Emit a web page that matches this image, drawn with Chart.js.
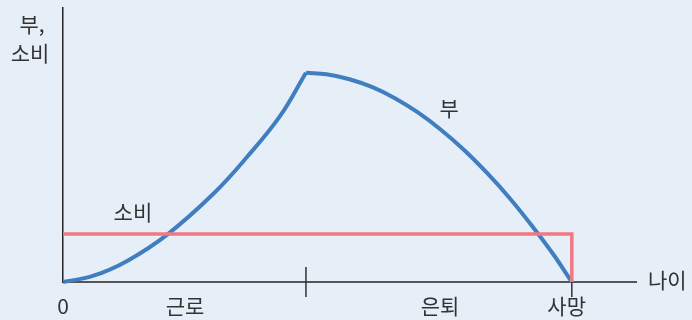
<!DOCTYPE html>
<html>
<head>
<meta charset="utf-8">
<script src="https://cdn.jsdelivr.net/npm/chart.js@4/dist/chart.umd.min.js"></script>
<style>
  html, body { margin: 0; padding: 0; background: #e6eef8; }
  #wrap { width: 692px; height: 320px; }
</style>
</head>
<body>
<div id="wrap"><canvas id="lifeChart"></canvas></div>
<script>
// ===== data (x: age axis 0-100, y: amount 0-100) =====
const workAgeX = [0, 5.2, 11.2, 18.3, 26.2, 32.1, 37.9, 42.4];
const workWealth = [0, 2.2, 7.7, 17.5, 32.1, 45.6, 60.6, 76.4];
const retireAgeX = [42.4, 46.0, 50.0, 54.0, 58.0, 62.0, 66.0, 70.0, 74.0, 78.0, 82.0, 85.5, 88.8];
const retireWealth = [76.4, 75.8, 74.0, 71.1, 67.0, 61.8, 55.5, 48.2, 39.8, 30.5, 20.1, 10.3, 0];
const consumptionX = [0, 88.8, 88.8];
const consumptionY = [17.5, 17.5, 0];

const tickLabels = ["0", "근로", "은퇴", "사망"];
const tickLabelX = [0, 21.3, 65.8, 87.9];
const retireAge = 42.4;
const deathAge = 88.8;

const toPoints = (xs, ys) => xs.map((x, i) => ({ x: x, y: ys[i] }));

const FONT = "'Noto Sans CJK KR', 'Noto Sans', sans-serif";

// ===== labels & tick marks =====
const labelPlugin = {
    id: "labelPlugin",
    afterDraw(chart) {
        const ctx = chart.ctx;
        const xs = chart.scales.x;
        const ys = chart.scales.y;
        const base = ys.getPixelForValue(0);

        ctx.save();
        // tick marks
        ctx.strokeStyle = "#333";
        ctx.lineWidth = 1.5;
        ctx.beginPath();
        const rx = xs.getPixelForValue(retireAge);
        ctx.moveTo(rx, base - 15);
        ctx.lineTo(rx, base + 15);
        const dx = xs.getPixelForValue(deathAge);
        ctx.moveTo(dx, base);
        ctx.lineTo(dx, base + 15);
        ctx.stroke();

        ctx.fillStyle = "#333";
        ctx.font = "21px " + FONT;
        ctx.textAlign = "center";
        ctx.textBaseline = "middle";
        tickLabels.forEach((t, i) => {
            ctx.fillText(t, xs.getPixelForValue(tickLabelX[i]), base + 24);
        });

        // axis titles
        ctx.textAlign = "left";
        ctx.fillText("나이", xs.right + 12, base - 2);
        ctx.textAlign = "center";
        ctx.fillText("부,", 32, 24);
        ctx.fillText("소비", 30, 53);

        // series labels
        ctx.fillText("소비", xs.getPixelForValue(12.2), ys.getPixelForValue(25.5));
        ctx.fillText("부", xs.getPixelForValue(67.4), ys.getPixelForValue(63.5));
        ctx.restore();
    }
};

new Chart(document.getElementById("lifeChart"), {
    type: "line",
    data: {
        datasets: [
            {
                label: "소비",
                data: toPoints(consumptionX, consumptionY),
                borderColor: "#f27883",
                borderWidth: 3.5,
                pointRadius: 0,
                tension: 0,
                clip: false
            },
            {
                label: "부",
                data: toPoints(workAgeX, workWealth),
                borderColor: "#3f7ebf",
                borderWidth: 4,
                pointRadius: 0,
                tension: 0.4,
                clip: false
            },
            {
                label: "부",
                data: toPoints(retireAgeX, retireWealth),
                borderColor: "#3f7ebf",
                borderWidth: 4,
                pointRadius: 0,
                tension: 0.4,
                clip: false
            }
        ]
    },
    options: {
        responsive: true,
        maintainAspectRatio: false,
        animation: false,
        layout: {
            padding: { left: 63, right: 56, top: 8, bottom: 38 }
        },
        plugins: {
            legend: { display: false },
            tooltip: { enabled: false }
        },
        scales: {
            x: {
                type: "linear",
                min: 0,
                max: 100,
                grid: { display: false, drawTicks: false },
                ticks: { display: false },
                border: { color: "#555", width: 2 }
            },
            y: {
                min: 0,
                max: 100,
                grid: { display: false, drawTicks: false },
                ticks: { display: false },
                border: { color: "#222", width: 1.5 }
            }
        }
    },
    plugins: [labelPlugin]
});
</script>
</body>
</html>
